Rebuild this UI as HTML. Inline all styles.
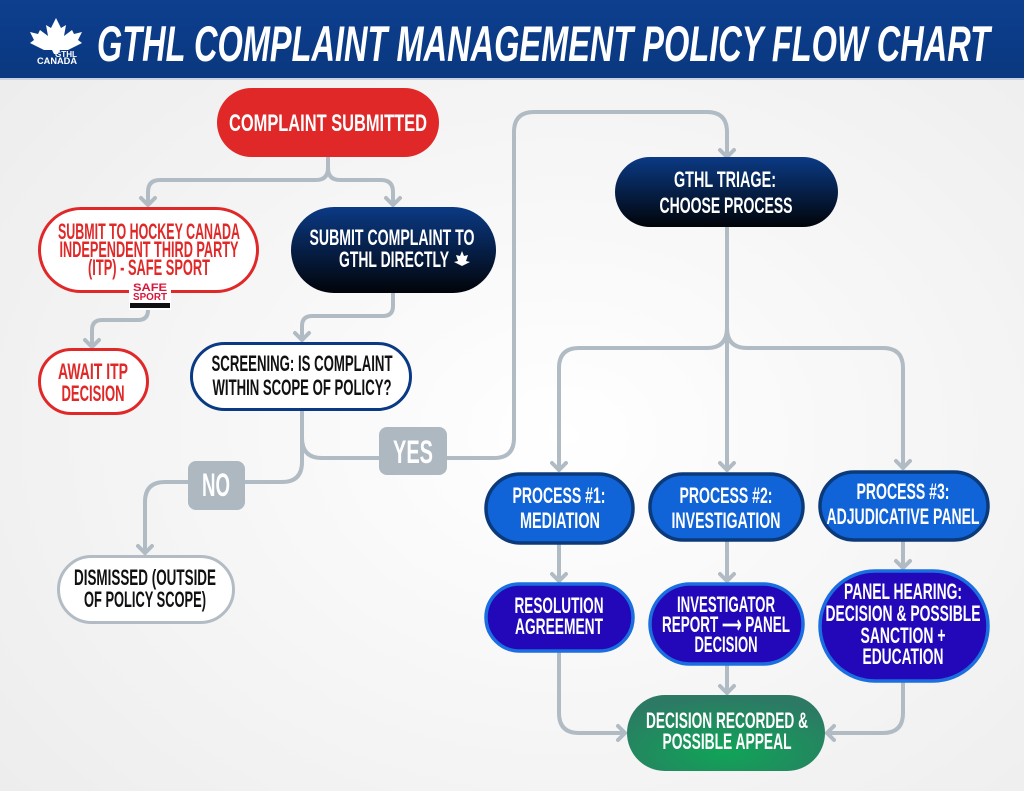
<!DOCTYPE html>
<html><head><meta charset="utf-8"><style>
html,body{margin:0;padding:0;width:1024px;height:791px;overflow:hidden;background:#f3f3f3}
svg{display:block}
text{font-family:"Liberation Sans Narrow","Liberation Sans",sans-serif;font-weight:bold}
</style></head><body>
<svg width="1024" height="791" viewBox="0 0 1024 791" xmlns="http://www.w3.org/2000/svg">
<defs>
<radialGradient id="bg" cx="0.55" cy="0.55" r="0.7"><stop offset="0" stop-color="#ffffff"/><stop offset="1" stop-color="#ededed"/></radialGradient>
<linearGradient id="hdr" x1="0" y1="0" x2="0" y2="1"><stop offset="0" stop-color="#0d3f8e"/><stop offset="1" stop-color="#0a3880"/></linearGradient>
<linearGradient id="navy" x1="0" y1="0" x2="0" y2="1"><stop offset="0" stop-color="#0b3a85"/><stop offset="1" stop-color="#010409"/></linearGradient>
<radialGradient id="grn" cx="0.5" cy="0.75" r="0.7"><stop offset="0" stop-color="#10a457"/><stop offset="1" stop-color="#2c7a64"/></radialGradient>
</defs>
<rect width="1024" height="791" fill="url(#bg)"/>
<rect width="1024" height="78" fill="url(#hdr)"/>
<rect y="78" width="1024" height="2" fill="#c9d3e0"/>
<!-- logo -->
<path d="M56 18 L61 28 L66 25 L64 36 L72 30 L74 34 L82 32 L78 40 L82 43 L68 50 L60 50 L58 54 L54 54 L52 50 L44 50 L30 43 L34 40 L30 32 L38 34 L40 30 L48 36 L46 25 L51 28 Z" fill="#fff"/>
<text x="66" y="57" font-size="8" fill="#fff" text-anchor="middle" textLength="22" lengthAdjust="spacingAndGlyphs" font-family="Liberation Sans">GTHL</text>
<text x="57" y="64" font-size="9" fill="#fff" text-anchor="middle" textLength="40" lengthAdjust="spacingAndGlyphs" font-family="Liberation Sans">CANADA</text>
<text x="97" y="61" font-size="50" fill="#fff" font-style="italic" textLength="893" lengthAdjust="spacingAndGlyphs" font-family="Liberation Sans">GTHL COMPLAINT MANAGEMENT POLICY FLOW CHART</text>

<!-- connectors -->
<g fill="none" stroke="#b0bbc4" stroke-width="4" stroke-linecap="round" stroke-linejoin="round">
<path d="M328 157 V168 Q328 180 316 180 H160 Q148 180 148 192 V205"/>
<path d="M328 168 Q328 180 340 180 H381 Q393 180 393 192 V205"/>
<path d="M148 306 V310 Q148 320 138 320 H102 Q92 320 92 330 V347"/>
<path d="M393 293 V306 Q393 316 383 316 H312 Q302 316 302 326 V340"/>
<path d="M302 410 V438 Q302 458 322 458 H494 Q514 458 514 438 V132 Q514 112 534 112 H707 Q727 112 727 132 V157"/>
<path d="M302 438 V462 Q302 482 282 482 H165 Q145 482 145 502 V553"/>
<path d="M727 227 V470"/>
<path d="M727 328 Q727 348 707 348 H579 Q559 348 559 368 V470"/>
<path d="M727 328 Q727 348 747 348 H883 Q903 348 903 368 V468"/>
<path d="M559 545 V581"/><path d="M727 542 V581"/><path d="M903 542 V568"/>
<path d="M727 665 V693"/>
<path d="M559 652 V713 Q559 733 579 733 H625"/>
<path d="M903 682 V713 Q903 733 883 733 H827"/>
<path d="M141 198 L148 205 L155 198"/><path d="M386 198 L393 205 L400 198"/>
<path d="M85 340 L92 347 L99 340"/><path d="M295 333 L302 340 L309 333"/>
<path d="M720 150 L727 157 L734 150"/><path d="M138 546 L145 553 L152 546"/>
<path d="M552 463 L559 470 L566 463"/><path d="M720 463 L727 470 L734 463"/><path d="M896 461 L903 468 L910 461"/>
<path d="M552 574 L559 581 L566 574"/><path d="M720 574 L727 581 L734 574"/><path d="M896 561 L903 568 L910 561"/>
<path d="M720 686 L727 693 L734 686"/>
<path d="M618 726 L625 733 L618 740"/><path d="M834 726 L827 733 L834 740"/>
</g>
<rect x="379" y="427" width="68" height="48" rx="8" fill="#adb8c1"/>
<text x="413" y="463" font-size="32" fill="#fff" text-anchor="middle" textLength="40" lengthAdjust="spacingAndGlyphs">YES</text>
<rect x="188" y="461" width="57" height="49" rx="8" fill="#adb8c1"/>
<text x="216" y="496" font-size="32" fill="#fff" text-anchor="middle" textLength="28" lengthAdjust="spacingAndGlyphs">NO</text>

<!-- nodes -->
<rect x="217" y="88" width="222" height="69" rx="34.5" fill="#e02828"/>
<text x="328" y="131" font-size="24" fill="#fff" text-anchor="middle" textLength="198" lengthAdjust="spacingAndGlyphs">COMPLAINT SUBMITTED</text>

<rect x="39.5" y="208.5" width="218" height="83" rx="41.5" fill="#fff" stroke="#e02828" stroke-width="3"/>
<g fill="#e02828" font-size="22" text-anchor="middle">
<text x="149" y="239" textLength="182" lengthAdjust="spacingAndGlyphs">SUBMIT TO HOCKEY CANADA</text>
<text x="149" y="257" textLength="179" lengthAdjust="spacingAndGlyphs">INDEPENDENT THIRD PARTY</text>
<text x="149" y="275" textLength="122" lengthAdjust="spacingAndGlyphs">(ITP) - SAFE SPORT</text>
</g>
<rect x="129" y="280" width="42" height="30" fill="#fff"/>
<text x="150" y="291" font-size="11" fill="#d8173b" text-anchor="middle" textLength="34" lengthAdjust="spacingAndGlyphs" font-family="Liberation Sans">SAFE</text>
<text x="150" y="300" font-size="10" fill="#d8173b" text-anchor="middle" textLength="34" lengthAdjust="spacingAndGlyphs" font-family="Liberation Sans">SPORT</text>
<rect x="130" y="303" width="40" height="5" fill="#111"/>

<rect x="291" y="207" width="205" height="86" rx="43" fill="url(#navy)"/>
<g fill="#fff" font-size="22" text-anchor="middle">
<text x="392" y="245" textLength="165" lengthAdjust="spacingAndGlyphs">SUBMIT COMPLAINT TO</text>
<text x="394" y="267" textLength="110" lengthAdjust="spacingAndGlyphs">GTHL DIRECTLY</text>
</g>
<path d="M462 251 L464 256 L468 255 L466 261 L470 262 L462 266 L454 262 L458 261 L456 255 L460 256Z" fill="#fff"/>

<rect x="39.5" y="349.5" width="108" height="64" rx="32" fill="#fff" stroke="#e02828" stroke-width="3"/>
<text x="93" y="379" font-size="22" fill="#e02828" text-anchor="middle" textLength="70" lengthAdjust="spacingAndGlyphs">AWAIT ITP</text>
<text x="93" y="401" font-size="22" fill="#e02828" text-anchor="middle" textLength="63" lengthAdjust="spacingAndGlyphs">DECISION</text>

<rect x="191.5" y="343.5" width="219" height="66" rx="33" fill="#fff" stroke="#0b3a85" stroke-width="3"/>
<text x="302" y="371" font-size="22" fill="#111" text-anchor="middle" textLength="181" lengthAdjust="spacingAndGlyphs">SCREENING: IS COMPLAINT</text>
<text x="302" y="395" font-size="22" fill="#111" text-anchor="middle" textLength="179" lengthAdjust="spacingAndGlyphs">WITHIN SCOPE OF POLICY?</text>

<rect x="58.5" y="556.5" width="175" height="66" rx="33" fill="#fff" stroke="#b3bcc4" stroke-width="3"/>
<text x="145" y="585" font-size="22" fill="#111" text-anchor="middle" textLength="142" lengthAdjust="spacingAndGlyphs">DISMISSED (OUTSIDE</text>
<text x="145" y="607" font-size="22" fill="#111" text-anchor="middle" textLength="122" lengthAdjust="spacingAndGlyphs">OF POLICY SCOPE)</text>

<rect x="615" y="157" width="223" height="70" rx="35" fill="url(#navy)"/>
<text x="725" y="187" font-size="22" fill="#fff" text-anchor="middle" textLength="102" lengthAdjust="spacingAndGlyphs">GTHL TRIAGE:</text>
<text x="726" y="213" font-size="22" fill="#fff" text-anchor="middle" textLength="133" lengthAdjust="spacingAndGlyphs">CHOOSE PROCESS</text>

<g stroke="#0b3a7a" stroke-width="3.5" fill="#1163d8">
<rect x="486" y="474" width="147" height="69" rx="34.5"/>
<rect x="650" y="474" width="153" height="66" rx="33"/>
<rect x="820" y="472" width="168" height="68" rx="34"/>
</g>
<g fill="#fff" font-size="22" text-anchor="middle">
<text x="559" y="503" textLength="93" lengthAdjust="spacingAndGlyphs">PROCESS #1:</text>
<text x="560" y="528" textLength="80" lengthAdjust="spacingAndGlyphs">MEDIATION</text>
<text x="726" y="503" textLength="93" lengthAdjust="spacingAndGlyphs">PROCESS #2:</text>
<text x="726" y="528" textLength="109" lengthAdjust="spacingAndGlyphs">INVESTIGATION</text>
<text x="903" y="499" textLength="93" lengthAdjust="spacingAndGlyphs">PROCESS #3:</text>
<text x="903" y="524" textLength="153" lengthAdjust="spacingAndGlyphs">ADJUDICATIVE PANEL</text>
</g>

<g stroke="#1a6ee0" stroke-width="3.5" fill="#2208b8">
<rect x="486" y="584" width="147" height="67" rx="33.5"/>
<rect x="650" y="584" width="153" height="80" rx="40"/>
<rect x="820" y="571" width="168" height="110" rx="55"/>
</g>
<g fill="#fff" font-size="22" text-anchor="middle">
<text x="559" y="613" textLength="89" lengthAdjust="spacingAndGlyphs">RESOLUTION</text>
<text x="559" y="634" textLength="88" lengthAdjust="spacingAndGlyphs">AGREEMENT</text>
<text x="726" y="612" textLength="98" lengthAdjust="spacingAndGlyphs">INVESTIGATOR</text>
<text x="726" y="632" textLength="128" lengthAdjust="spacingAndGlyphs">REPORT ⟶ PANEL</text>
<text x="726" y="652" textLength="63" lengthAdjust="spacingAndGlyphs">DECISION</text>
<text x="903" y="599" textLength="118" lengthAdjust="spacingAndGlyphs">PANEL HEARING:</text>
<text x="903" y="621" textLength="155" lengthAdjust="spacingAndGlyphs">DECISION &amp; POSSIBLE</text>
<text x="903" y="643" textLength="85" lengthAdjust="spacingAndGlyphs">SANCTION +</text>
<text x="903" y="664" textLength="81" lengthAdjust="spacingAndGlyphs">EDUCATION</text>
</g>

<rect x="627" y="695" width="198" height="76" rx="38" fill="url(#grn)"/>
<text x="727" y="728" font-size="22" fill="#fff" text-anchor="middle" textLength="162" lengthAdjust="spacingAndGlyphs">DECISION RECORDED &amp;</text>
<text x="727" y="749" font-size="22" fill="#fff" text-anchor="middle" textLength="129" lengthAdjust="spacingAndGlyphs">POSSIBLE APPEAL</text>
</svg>
</body></html>
